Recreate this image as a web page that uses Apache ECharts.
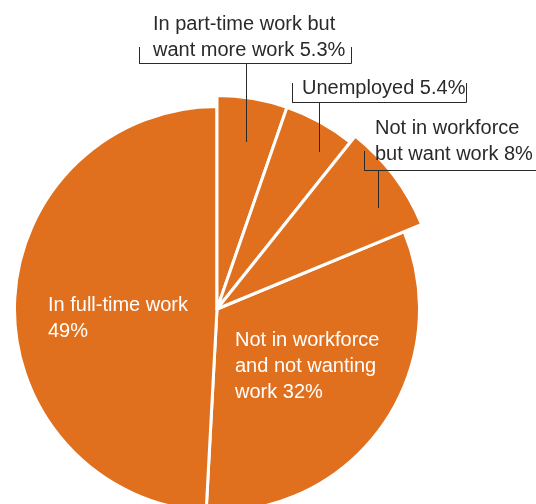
<!DOCTYPE html>
<html><head><meta charset="utf-8">
<script src="https://cdn.jsdelivr.net/npm/echarts@6/dist/echarts.min.js"></script>
<style>html,body{margin:0;padding:0;background:#fff}#c{width:536px;height:504px}</style>
</head><body><div id="c"></div>
<script>
// ---- data ----
const categories = [
  'In part-time work but want more work',
  'Unemployed',
  'Not in workforce but want work',
  'Not in workforce and not wanting work',
  'In full-time work'
];
const values = [5.3, 5.4, 8, 32, 49];
const labelNames = [
  'In part-time work but\nwant more work',
  'Unemployed',
  'Not in workforce\nbut want work',
  'Not in workforce\nand not wanting\nwork',
  'In full-time work'
];
const labelSep = [' ', ' ', ' ', ' ', '\n'];

// ---- style / layout ----
const ORANGE = '#E0701D';
const INK = '#2a2a2a';
const CLEAR = 'rgba(0,0,0,0)';
const FONT = "'Liberation Sans', Arial, sans-serif";
const center = [217, 309];
const ringRadius = [202.5, 213.5, 221.5];
const sliceGroup = [1, 1, 2, 0, 0];
const outside = [true, true, true, false, false];
const labelPos = [[153, 11], [302, 75], [375, 115], [235, 327], [48, 292]];
const brackets = [
  {y: 63.5, x1: 139.5, x2: 351.5, tick: 47, stemX: 246.5, stemEnd: 142},
  {y: 102.5, x1: 292.5, x2: 466.5, tick: 83, stemX: 319.5, stemEnd: 152},
  {y: 170.5, x1: 364.5, x2: 545, tick: 151, stemX: 378.5, stemEnd: 208},
  null, null
];

const base = {
  type: 'pie', center: center, startAngle: 90, clockwise: true,
  silent: true, animation: false, avoidLabelOverlap: false,
  emphasis: {disabled: true}
};

// slice series, one per radius group (no labels)
function sliceSeries(g) {
  return Object.assign({}, base, {
    radius: ringRadius[g], z: 2,
    label: {show: false}, labelLine: {show: false},
    data: categories.map((name, i) => {
      const on = sliceGroup[i] === g;
      return {
        name: name, value: values[i],
        itemStyle: on ? {color: ORANGE, borderColor: '#fff', borderWidth: 3}
                      : {color: CLEAR, borderColor: CLEAR, borderWidth: 0}
      };
    })
  });
}

// label-only series drawn on top, so leader lines sit above the slices
const labelSeries = Object.assign({}, base, {
  radius: ringRadius[0], z: 10,
  label: {
    show: true, fontFamily: FONT, fontSize: 20, lineHeight: 26,
    formatter: p => labelNames[p.dataIndex] + labelSep[p.dataIndex] + p.value + '%'
  },
  labelLine: {show: true, showAbove: true, smooth: false, lineStyle: {color: INK, width: 1}},
  data: categories.map((name, i) => ({
    name: name, value: values[i],
    itemStyle: {color: CLEAR, borderColor: CLEAR, borderWidth: 0},
    label: {position: outside[i] ? 'outside' : 'inside', color: outside[i] ? INK : '#fff'},
    labelLine: {show: outside[i], showAbove: true}
  })),
  labelLayout: p => {
    const i = p.dataIndex, pos = labelPos[i], b = brackets[i];
    const o = {x: pos[0], y: pos[1], align: 'left', verticalAlign: 'top'};
    if (b) o.labelLinePoints = [[b.stemX, b.stemEnd], [b.stemX, b.y], [b.x1, b.y], [b.x1, b.tick],
                                [b.x1, b.y], [b.x2, b.y], [b.x2, b.tick]];
    return o;
  }
});

const chart = echarts.init(document.getElementById('c'), null, {renderer: 'canvas'});
chart.setOption({
  backgroundColor: '#fff',
  animation: false,
  series: [sliceSeries(0), sliceSeries(1), sliceSeries(2), labelSeries]
});
</script></body></html>
